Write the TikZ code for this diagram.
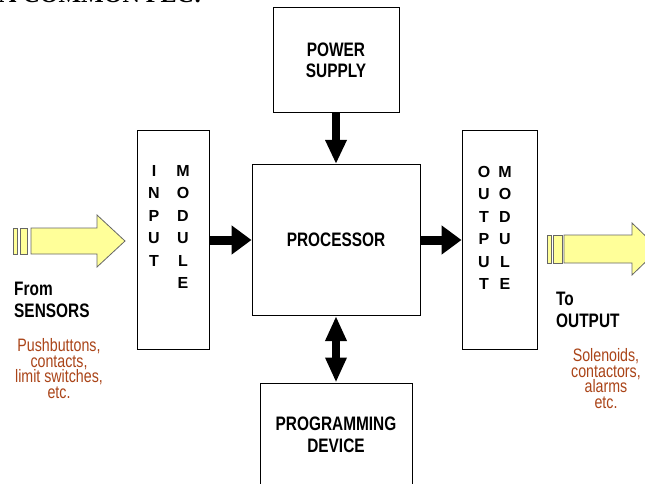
\documentclass[tikz,border=0pt]{standalone}
\usepackage{fontspec}
\setmainfont{Liberation Sans}
\newfontfamily\narrowfont{Liberation Sans}[FakeStretch=0.79]
\newfontfamily\titlefont{Liberation Serif}
\usetikzlibrary{arrows.meta}
\definecolor{notebrown}{RGB}{170,68,24}
\definecolor{signalyellow}{RGB}{255,255,153}

\tikzset{
  block/.style={draw, line width=1pt, inner sep=0pt, align=center,
    font=\narrowfont\bfseries\fontsize{19.5}{21.5}\selectfont},
  letters/.style={align=center, inner sep=0pt, anchor=base,
    font=\bfseries\fontsize{16}{22.5}\selectfont},
  caption/.style={align=left, inner sep=0pt, anchor=base west,
    font=\narrowfont\bfseries\fontsize{19.5}{21.5}\selectfont},
  note/.style={align=center, inner sep=0pt, anchor=base, text=notebrown,
    font=\narrowfont\fontsize{18}{15.4}\selectfont,
    execute at begin node={\lineskiplimit=-20pt\relax}},
  flowh/.style={line width=9pt, -{Triangle[length=20pt,width=28pt]}},
  flowv/.style={line width=8pt, -{Triangle[length=24pt,width=20pt]}},
  flowboth/.style={line width=8pt,
    {Triangle[length=25pt,width=20pt]}-{Triangle[length=25pt,width=20pt]}},
  signal/.style={fill=signalyellow, draw=black!60, line width=0.8pt},
}

\begin{document}
\begin{tikzpicture}[x=1pt, y=-1pt]
        \path[use as bounding box, fill=white] (0,0) rectangle (645,484);

        % Heading, cut off at the top
        \node[anchor=base west, inner sep=0pt,
          font=\titlefont\bfseries\fontsize{24}{24}\selectfont] (title) at (-1,3) {A COMMON PLC:};

        % Blocks
        \node[block, minimum width=126pt, minimum height=105pt] (psu) at (336,60.5) {POWER\\SUPPLY};
        \node[block, minimum width=168pt, minimum height=151pt] (proc) at (336,240) {PROCESSOR};
        \node[block, minimum width=152pt, minimum height=104pt] (prog) at (336,435) {PROGRAMMING\\DEVICE};
        \node[block, minimum width=72pt, minimum height=218pt] (inmod) at (173,240) {};
        \node[block, minimum width=75pt, minimum height=218pt] (outmod) at (499.5,240) {};

        % Module letters (placed by the baseline of the last letter)
        \node[letters] (inword) at (154,266) {I\\N\\P\\U\\T};
        \node[letters] (inmodword) at (183,288.5) {M\\O\\D\\U\\L\\E};
        \node[letters] (outword) at (484,289.5) {O\\U\\T\\P\\U\\T};
        \node[letters] (outmodword) at (505,289.5) {M\\O\\D\\U\\L\\E};

        % Connect blocks
        \draw[flowv] (psu) -- (proc);
        \draw[flowh] (inmod) -- (proc);
        \draw[flowh] (proc) -- (outmod);
        \draw[flowboth] (proc) -- (prog);

        % Signal arrows
        \filldraw[signal] (13,228) rectangle (17,254);
        \filldraw[signal] (20,228) rectangle (27,254);
        \filldraw[signal] (31,228) -- (97,228) -- (97,215) -- (125,241) -- (97,267) -- (97,254) -- (31,254) -- cycle;
        \filldraw[signal] (547,235) rectangle (551,263);
        \filldraw[signal] (553,235) rectangle (562,263);
        \filldraw[signal] (564,235) -- (632,235) -- (632,223) -- (659,249) -- (632,275) -- (632,263) -- (564,263) -- cycle;

        % Field side labels
        \node[caption] (from) at (14,317) {From\\SENSORS};
        \node[note] (sensornote) at (59,398) {Pushbuttons,\\contacts,\\limit switches,\\etc.};
        \node[caption] (to) at (556,327) {To\\OUTPUT};
        \node[note] (outnote) at (606,408) {Solenoids,\\contactors,\\alarms\\etc.};
    \end{tikzpicture}
\end{document}
